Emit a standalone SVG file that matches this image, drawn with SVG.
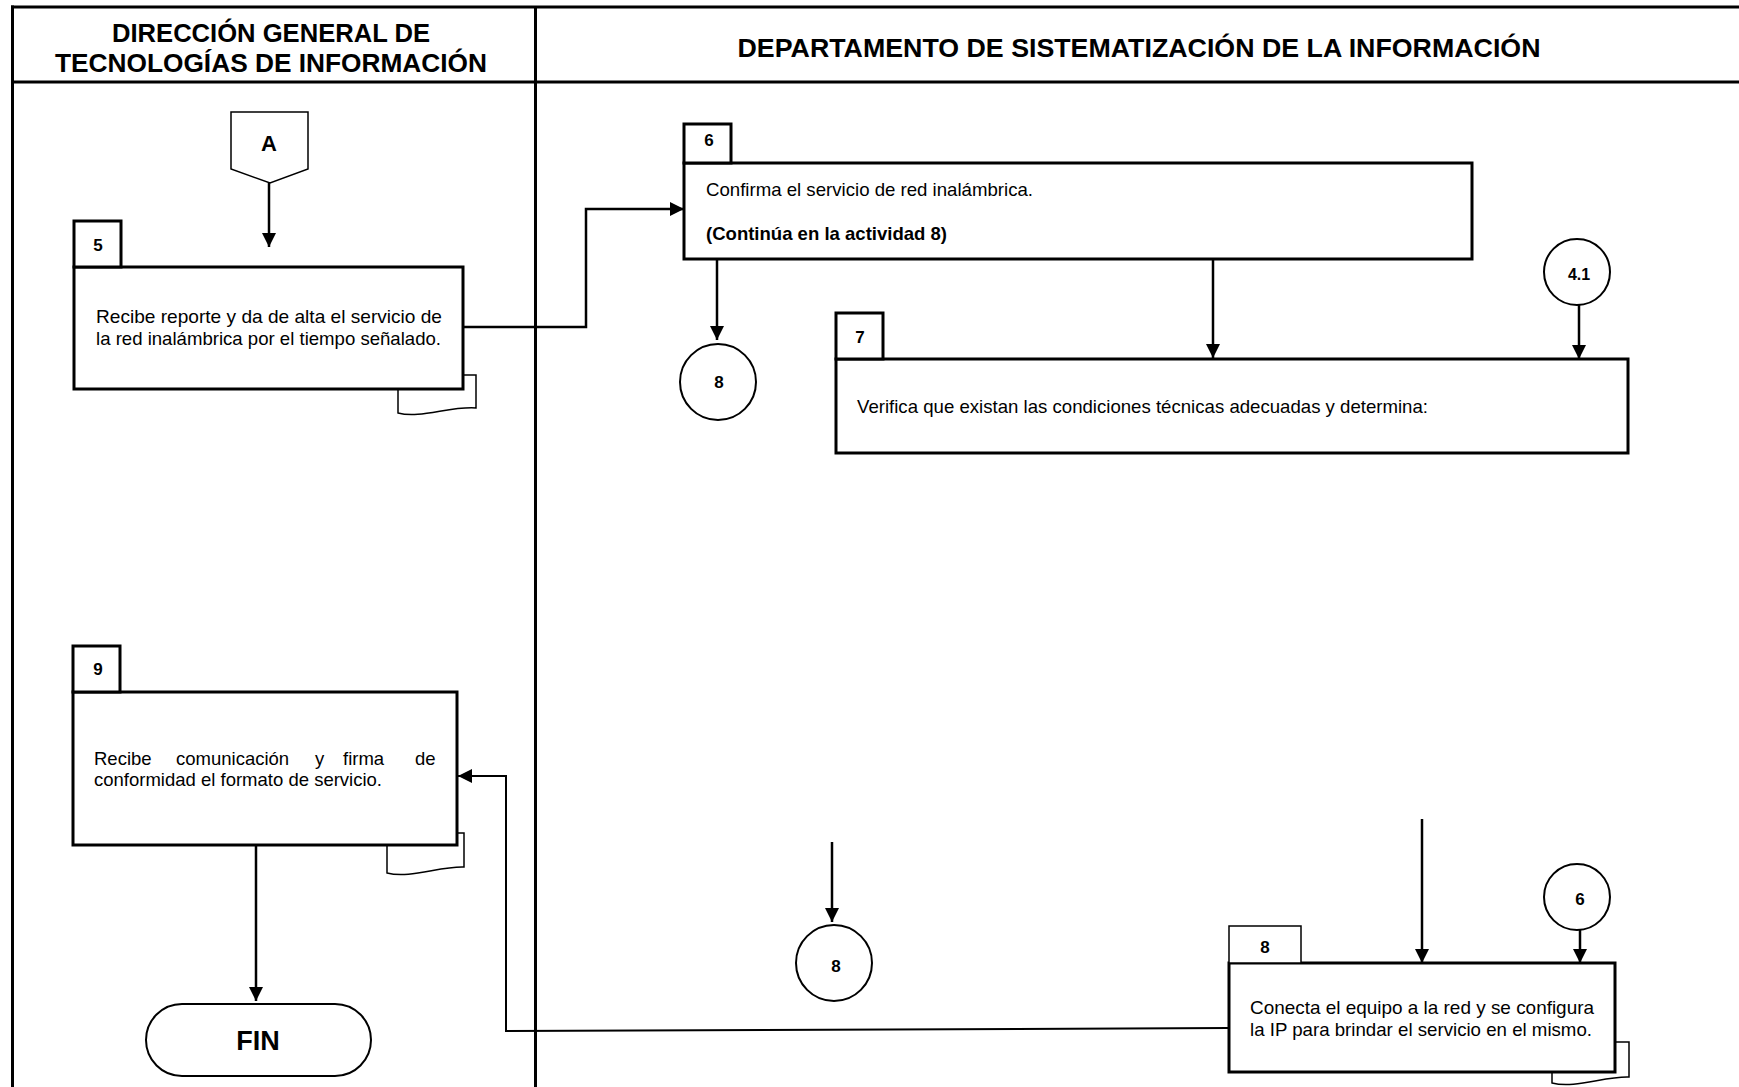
<svg xmlns="http://www.w3.org/2000/svg" width="1739" height="1087" viewBox="0 0 1739 1087">
<style>
.frame{stroke:#000;stroke-width:3;fill:none}
.box{fill:#fff;stroke:#000;stroke-width:3}
.tab{fill:#fff;stroke:#000;stroke-width:3}
.tabthin{fill:#fff;stroke:#000;stroke-width:1.5}
.doc{fill:#fff;stroke:#000;stroke-width:1.5}
.circ{fill:#fff;stroke:#000;stroke-width:2}
.conn{fill:none;stroke:#000;stroke-width:2.5}
.connthin{fill:none;stroke:#000;stroke-width:2}
.hdr{font-family:"Liberation Sans",Arial,sans-serif;font-weight:bold;font-size:25px;fill:#000}
.txt{font-family:"Liberation Sans",Arial,sans-serif;font-size:18.5px;fill:#000}
.bold{font-family:"Liberation Sans",Arial,sans-serif;font-weight:bold;fill:#000}
</style>
<defs>
<marker id="arr" viewBox="0 0 14 14" refX="14" refY="7" markerWidth="14" markerHeight="14" markerUnits="userSpaceOnUse" orient="auto"><path d="M0,0 L14,7 L0,14 z" fill="#000"/></marker>
</defs>
<rect width="1739" height="1087" fill="#fff"/>
<g id="frame">
<line class="frame" x1="11" y1="7" x2="1739" y2="7"/>
<line class="frame" x1="12.5" y1="5.5" x2="12.5" y2="1087"/>
<line class="frame" x1="11" y1="82" x2="1739" y2="82"/>
<line class="frame" x1="535.5" y1="7" x2="535.5" y2="1087"/>
<text class="hdr" x="271" y="42" text-anchor="middle" textLength="318" lengthAdjust="spacingAndGlyphs">DIRECCIÓN GENERAL DE</text>
<text class="hdr" x="271" y="72" text-anchor="middle" textLength="432" lengthAdjust="spacingAndGlyphs">TECNOLOGÍAS DE INFORMACIÓN</text>
<text class="hdr" x="1139" y="57" text-anchor="middle" textLength="803" lengthAdjust="spacingAndGlyphs">DEPARTAMENTO DE SISTEMATIZACIÓN DE LA INFORMACIÓN</text>
</g>
<g id="connectors">
<path class="conn" d="M269,183 V247" marker-end="url(#arr)"/>
<path class="conn" d="M463,327 H586 V209 H684" marker-end="url(#arr)"/>
<path class="conn" d="M717,259 V340" marker-end="url(#arr)"/>
<path class="conn" d="M1213,259 V358" marker-end="url(#arr)"/>
<path class="conn" d="M1579,305 V359" marker-end="url(#arr)"/>
<path class="conn" d="M832,842 V922" marker-end="url(#arr)"/>
<path class="conn" d="M1422,819 V963" marker-end="url(#arr)"/>
<path class="conn" d="M1580,929 V963" marker-end="url(#arr)"/>
<path class="connthin" d="M1229,1028 L506,1031 V776 H458" marker-end="url(#arr)"/>
<path class="conn" d="M256,845 V1001" marker-end="url(#arr)"/>
</g>
<g id="connA">
<path class="box" style="stroke-width:1.5" d="M231,112 H308 V169 L270,183 L231,169 Z"/>
<text class="bold" x="269" y="151" font-size="22" text-anchor="middle">A</text>
</g>
<g id="act5">
<path class="doc" d="M398,389 V413 C420,419 450,406 476,408 V375 H463"/>
<rect class="box" x="74" y="267" width="389" height="122"/>
<rect class="tab" x="74" y="221" width="47" height="46"/>
<text class="bold" x="98" y="251" font-size="17" text-anchor="middle">5</text>
<text class="txt" x="96" y="323" textLength="346" lengthAdjust="spacingAndGlyphs">Recibe reporte y da de alta el servicio de</text>
<text class="txt" x="96" y="345" textLength="345" lengthAdjust="spacingAndGlyphs">la red inalámbrica por el tiempo señalado.</text>
</g>
<g id="act6">
<rect class="box" x="684" y="163" width="788" height="96"/>
<rect class="tab" x="684" y="124" width="47" height="39"/>
<text class="bold" x="709" y="146" font-size="17" text-anchor="middle">6</text>
<text class="txt" x="706" y="196" textLength="327" lengthAdjust="spacingAndGlyphs">Confirma el servicio de red inalámbrica.</text>
<text class="bold" x="706" y="240" font-size="18.5" textLength="241" lengthAdjust="spacingAndGlyphs">(Continúa en la actividad 8)</text>
</g>
<g id="conn8a">
<circle class="circ" cx="718" cy="382" r="38"/>
<text class="bold" x="719" y="388" font-size="17" text-anchor="middle">8</text>
</g>
<g id="conn41">
<circle class="circ" cx="1577" cy="272" r="33"/>
<text class="bold" x="1579" y="280" font-size="16" text-anchor="middle">4.1</text>
</g>
<g id="act7">
<rect class="box" x="836" y="359" width="792" height="94"/>
<rect class="tab" x="836" y="313" width="47" height="46"/>
<text class="bold" x="860" y="343" font-size="17" text-anchor="middle">7</text>
<text class="txt" x="857" y="413" textLength="571" lengthAdjust="spacingAndGlyphs">Verifica que existan las condiciones técnicas adecuadas y determina:</text>
</g>
<g id="act9">
<path class="doc" d="M387,845 V873 C410,879 440,866 464,867 V833 H457"/>
<rect class="box" x="73" y="692" width="384" height="153"/>
<rect class="tab" x="73" y="646" width="47" height="46"/>
<text class="bold" x="98" y="675" font-size="17" text-anchor="middle">9</text>
<text class="txt" y="765"><tspan x="94">Recibe</tspan><tspan x="176">comunicación</tspan><tspan x="315">y</tspan><tspan x="343">firma</tspan><tspan x="415">de</tspan></text>
<text class="txt" x="94" y="786" textLength="288" lengthAdjust="spacingAndGlyphs">conformidad el formato de servicio.</text>
</g>
<g id="fin">
<rect class="circ" x="146" y="1004" width="225" height="72" rx="36" ry="36"/>
<text class="bold" x="258" y="1050" font-size="27" text-anchor="middle">FIN</text>
</g>
<g id="conn8b">
<circle class="circ" cx="834" cy="963" r="38"/>
<text class="bold" x="836" y="972" font-size="17" text-anchor="middle">8</text>
</g>
<g id="conn6">
<circle class="circ" cx="1577" cy="897" r="33"/>
<text class="bold" x="1580" y="905" font-size="17" text-anchor="middle">6</text>
</g>
<g id="act8">
<path class="doc" d="M1552,1072 V1083 C1575,1089 1605,1076 1629,1077 V1042 H1615"/>
<rect class="box" x="1229" y="963" width="386" height="109"/>
<rect class="tabthin" x="1229" y="926" width="72" height="37"/>
<text class="bold" x="1265" y="953" font-size="17" text-anchor="middle">8</text>
<text class="txt" x="1250" y="1014" textLength="344" lengthAdjust="spacingAndGlyphs">Conecta el equipo a la red y se configura</text>
<text class="txt" x="1250" y="1036" textLength="342" lengthAdjust="spacingAndGlyphs">la IP para brindar el servicio en el mismo.</text>
</g>
</svg>
